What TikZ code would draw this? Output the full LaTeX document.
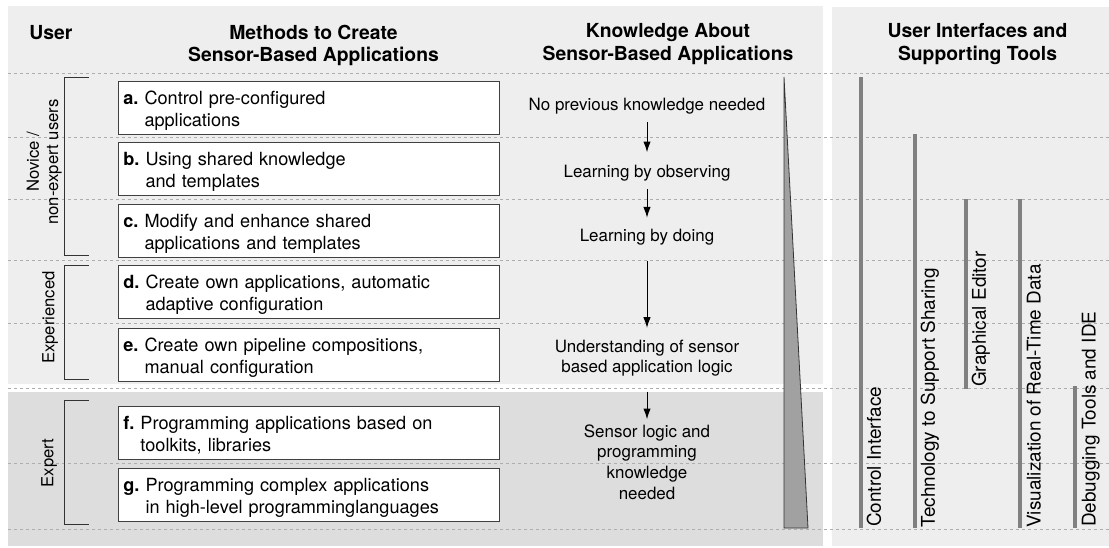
\documentclass[tikz,border=0pt]{standalone}
\usepackage{fontspec}
\setmainfont{TeX Gyre Heros}
\usetikzlibrary{arrows.meta}

\definecolor{panelgray}{gray}{0.935}
\definecolor{expertgray}{gray}{0.865}
\definecolor{gridgray}{gray}{0.68}
\definecolor{bargray}{gray}{0.5}
\definecolor{wedgegray}{gray}{0.63}

\begin{document}
\begin{tikzpicture}[x=0.75pt,y=-0.75pt]

\tikzset{
  method box/.style={draw=black!75, fill=white, line width=0.75pt, anchor=north west,
    minimum width=286pt, minimum height=40pt, text width=278pt, inner xsep=3.75pt,
    align=left, text depth=15pt, font=\fontsize{13.6}{16.3}\selectfont\frenchspacing},
  heading/.style={anchor=north, inner sep=0pt, align=center,
    font=\fontsize{14.5}{16.8}\selectfont\bfseries},
  knowledge/.style={inner sep=0pt, align=center, font=\fontsize{12.7}{15.5}\selectfont},
  user label/.style={rotate=90, inner sep=0pt, align=center,
    font=\fontsize{12.5}{14.5}\selectfont},
  tool label/.style={rotate=90, anchor=north west, inner sep=0pt,
    font=\fontsize{14.2}{17}\selectfont},
  tool bar/.style={draw=bargray, line width=3pt},
  level line/.style={draw=gridgray, line width=0.6pt, dash pattern=on 2.5pt off 2pt},
  user bracket/.style={draw=black!80, line width=0.75pt},
  flow/.style={-{Latex[length=8pt,width=5.5pt]}, line width=0.75pt}
}

\useasboundingbox (0,0) rectangle (1109,547);

\fill[panelgray] (8,6) rectangle (823,384);
\fill[expertgray] (8,392) rectangle (823,546);
\fill[panelgray] (832,7) rectangle (1109,546);

\foreach \y in {73,137,199,260,323,388,463,529}
  \draw[level line] (8,\y) -- (1109,\y);

\node[heading] (userhead) at (50.8,25) {User};
\node[heading] (methodhead) at (313.5,24.5) {Methods to Create\\Sensor-Based Applications};
\node[heading] (knowhead) at (668,23.5) {Knowledge About\\Sensor-Based Applications};
\node[heading] (toolhead) at (977.5,23.5) {User Interfaces and\\Supporting Tools};

\draw[user bracket] (89,77) -| (64,255) -- (89,255);
\draw[user bracket] (89,265) -| (64,379) -- (89,379);
\draw[user bracket] (89,400) -| (64,524) -- (89,524);
\node[user label] (novice) at (44.3,162) {Novice /\\non-expert users};
\node[user label] (experienced) at (50,317.5) {Experienced};
\node[user label] (expert) at (49.2,463) {Expert};

\node[method box] (ma) at (117.5,81) {\textbf{a.} Control pre-configured\\\phantom{\textbf{a.} }applications};
\node[method box] (mb) at (117.5,141.5) {\textbf{b.} Using shared knowledge\\\phantom{\textbf{b.} }and templates};
\node[method box] (mc) at (117.5,203.5) {\textbf{c.} Modify and enhance shared\\\phantom{\textbf{c.} }applications and templates};
\node[method box] (md) at (117.5,264.5) {\textbf{d.} Create own applications, automatic\\\phantom{\textbf{d.} }adaptive configuration};
\node[method box] (me) at (117.5,327.5) {\textbf{e.} Create own pipeline compositions,\\\phantom{\textbf{e.} }manual configuration};
\node[method box] (mf) at (117.5,405.5) {\textbf{f.} Programming applications based on\\\phantom{\textbf{f.} }toolkits, libraries};
\node[method box] (mg) at (117.5,467.5) {\textbf{g.} Programming complex applications\\\phantom{\textbf{g.} }in high-level programminglanguages};

\node[knowledge] (k1) at (647,106) {No previous knowledge needed};
\node[knowledge] (k2) at (647,172.8) {Learning by observing};
\node[knowledge] (k3) at (647,237) {Learning by doing};
\node[knowledge] (k4) at (647,358) {Understanding of sensor\\based application logic};
\node[knowledge] (k5) at (647,462) {Sensor logic and\\programming\\knowledge\\needed};

\draw[flow, shorten <=5.8pt, shorten >=9.2pt] (k1.south) -- (k2.north);
\draw[flow, shorten <=6pt, shorten >=8.3pt] (k2.south) -- (k3.north);
\draw[flow, shorten <=11.6pt, shorten >=8.6pt] (k3.south) -- (k4.north);
\draw[flow, shorten <=11.3pt, shorten >=3.8pt] (k4.south) -- (k5.north);

\filldraw[fill=wedgegray, draw=black!80, line width=0.6pt] (784,77) -- (808,528) -- (784,528) -- cycle;

\draw[tool bar] (860.7,77) -- (860.7,528);
\node[tool label] (control) at (866.5,527) {Control Interface};
\draw[tool bar] (915,134) -- (915,528);
\node[tool label] (sharing) at (920.5,528) {Technology to Support Sharing};
\draw[tool bar] (965.7,199) -- (965.7,389);
\node[tool label] (editor) at (971.5,387) {Graphical Editor};
\draw[tool bar] (1020,199) -- (1020,528);
\node[tool label] (realtime) at (1026.5,528) {Visualization of Real-Time Data};
\draw[tool bar] (1075,386) -- (1075,528);
\node[tool label] (debug) at (1081.5,527) {Debugging Tools and IDE};

\end{tikzpicture}
\end{document}
